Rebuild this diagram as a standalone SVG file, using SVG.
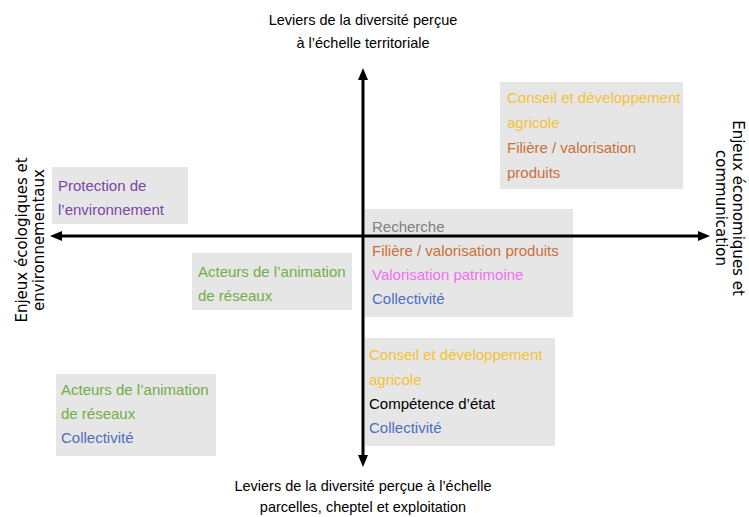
<svg xmlns="http://www.w3.org/2000/svg" width="749" height="517" viewBox="0 0 749 517">
<style>
.box{fill:#e7e6e6}
.t{font-family:"Liberation Sans",Arial,sans-serif;font-size:15px}
.ax{font-family:"Liberation Sans",Arial,sans-serif;font-size:14.5px;fill:#000;text-anchor:middle}
.side{font-family:"DejaVu Sans",Verdana,sans-serif;font-size:15px;fill:#000;text-anchor:middle}
.gold{fill:#f2c237}
.orange{fill:#c8703a}
.purple{fill:#7a45a8}
.green{fill:#70ad47}
.magenta{fill:#f070f0}
.blue{fill:#4a6fc0}
.gray{fill:#808080}
.black{fill:#000}
.axis{stroke:#000;stroke-width:3;fill:none}
</style>
<defs>
<marker id="arr" viewBox="0 0 12 10" refX="2" refY="5" markerWidth="12" markerHeight="10" markerUnits="userSpaceOnUse" orient="auto-start-reverse">
<path d="M0,0 L12,5 L0,10 z" fill="#000"/>
</marker>
</defs>
<rect width="749" height="517" fill="#fff"/>

<g id="label-top">
<text class="ax" x="363" y="25">Leviers de la diversité perçue</text>
<text class="ax" x="363" y="48">à l’échelle territoriale</text>
</g>
<g id="label-bottom">
<text class="ax" x="363" y="491">Leviers de la diversité perçue à l’échelle</text>
<text class="ax" x="363" y="512">parcelles, cheptel et exploitation</text>
</g>
<g id="label-left">
<text class="side" transform="translate(27,240) rotate(-90)">Enjeux écologiques et</text>
<text class="side" transform="translate(44,240) rotate(-90)">environnementaux</text>
</g>
<g id="label-right">
<text class="side" transform="translate(733,208) rotate(90)">Enjeux économiques et</text>
<text class="side" transform="translate(716,208) rotate(90)">communication</text>
</g>

<g id="node-topright">
<rect class="box" x="500" y="82" width="183" height="107"/>
<text class="t gold" x="507" y="103">Conseil et développement</text>
<text class="t gold" x="507" y="128">agricole</text>
<text class="t orange" x="507" y="153">Filière / valorisation</text>
<text class="t orange" x="507" y="178">produits</text>
</g>
<g id="node-protection">
<rect class="box" x="52" y="167" width="136" height="57"/>
<text class="t purple" x="58" y="191">Protection de</text>
<text class="t purple" x="58" y="215">l’environnement</text>
</g>
<g id="node-acteurs-mid">
<rect class="box" x="192" y="253" width="160" height="57"/>
<text class="t green" x="198" y="277">Acteurs de l’animation</text>
<text class="t green" x="198" y="301">de réseaux</text>
</g>
<g id="node-center">
<rect class="box" x="365" y="209" width="208" height="108"/>
<text class="t gray" x="372" y="232">Recherche</text>
<text class="t orange" x="372" y="256">Filière / valorisation produits</text>
<text class="t magenta" x="372" y="280">Valorisation patrimoine</text>
<text class="t blue" x="372" y="304">Collectivité</text>
</g>
<g id="node-bottom">
<rect class="box" x="365" y="338" width="190" height="108"/>
<text class="t gold" x="369" y="360">Conseil et développement</text>
<text class="t gold" x="369" y="385">agricole</text>
<text class="t black" x="369" y="409">Compétence d’état</text>
<text class="t blue" x="369" y="433">Collectivité</text>
</g>
<g id="node-bottomleft">
<rect class="box" x="56" y="374" width="160" height="82"/>
<text class="t green" x="61" y="395">Acteurs de l’animation</text>
<text class="t green" x="61" y="419">de réseaux</text>
<text class="t blue" x="61" y="443">Collectivité</text>
</g>

<g id="connectors">
<line class="axis" x1="60" y1="236" x2="700" y2="236" marker-start="url(#arr)" marker-end="url(#arr)"/>
<line class="axis" x1="363" y1="78" x2="363" y2="457" marker-start="url(#arr)" marker-end="url(#arr)"/>
</g>
</svg>
